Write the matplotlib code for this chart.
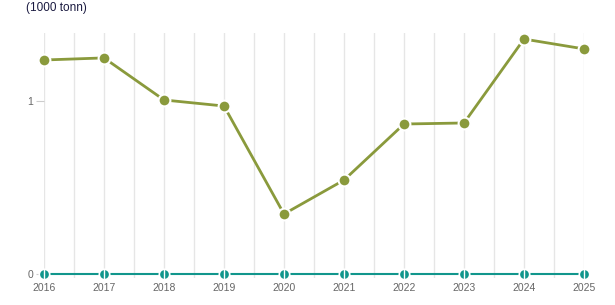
import matplotlib.pyplot as plt
import numpy as np

plt.rcParams['font.family'] = ['Liberation Sans', 'DejaVu Sans']

years = [2016, 2017, 2018, 2019, 2020, 2021, 2022, 2023, 2024, 2025]
volume = [1.237, 1.249, 1.006, 0.971, 0.347, 0.543, 0.867, 0.873, 1.358, 1.301]
zero_series = [0, 0, 0, 0, 0, 0, 0, 0, 0, 0]
y_ticks = [0, 1]

olive = "#8a9a3c"
teal = "#11968c"

fig = plt.figure(figsize=(6.15, 3.05), dpi=100)
ax = fig.add_axes([44 / 615, 1 - 277.5 / 305, 540 / 615, 244.5 / 305])

ax.set_xlim(years[0], years[-1])
ax.set_ylim(-0.02, 1.393)

for x in np.arange(years[0], years[-1] + 0.01, 0.5):
    ax.axvline(x, color="#e6e6e6", lw=1, zorder=0)

ax.plot(years, zero_series, color=teal, lw=1.5, marker="o", ms=7.5,
        mfc=teal, mec="white", mew=1.2, clip_on=False, zorder=3)
ax.plot(years, zero_series, ls="none", marker="|", ms=7, mec="white",
        mew=1, clip_on=False, zorder=4)
ax.plot(years, volume, color=olive, lw=2, marker="o", ms=8.5,
        mfc=olive, mec="white", mew=1.5, clip_on=False, zorder=5)

for s in ax.spines.values():
    s.set_visible(False)

ax.set_xticks(years)
ax.set_xticklabels([str(y) for y in years])
ax.set_yticks(y_ticks)
ax.tick_params(axis="x", length=0, pad=4, labelsize=7.5, labelcolor="#666666")
ax.tick_params(axis="y", length=6, width=0.8, color="#cccccc", pad=2,
               labelsize=7.5, labelcolor="#666666")

fig.text(26 / 615, 1 - 8 / 305, "(1000 tonn)", fontsize=8.5, color="#1a1a40",
         va="center", ha="left")

fig.savefig("out.png", dpi=100)
